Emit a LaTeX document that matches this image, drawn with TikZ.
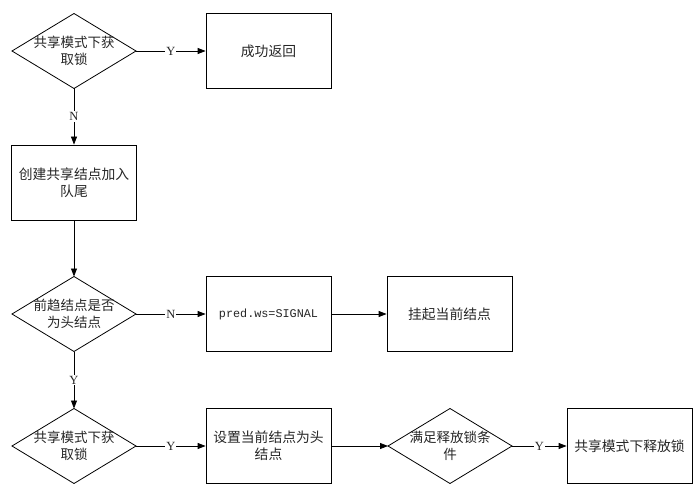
\documentclass[tikz,border=0pt]{standalone}
\usepackage{fontspec}
\setmainfont{Liberation Serif}
\newfontfamily\cjk{Noto Sans CJK SC}
\newfontfamily\mono{Liberation Mono}
\usetikzlibrary{arrows.meta}
\begin{document}
\begin{tikzpicture}[x=1pt,y=-1pt,
  proc/.style={draw,line width=0.8pt,minimum width=125pt,minimum height=75pt,inner sep=0pt,align=center,text=black!85,font=\cjk\fontsize{13.8}{17}\selectfont},
  dec/.style={inner sep=0pt,align=center,text=black!85,font=\cjk\fontsize{13.5}{17}\selectfont},
  arr/.style={line width=0.8pt,-{Triangle[length=8pt,width=6pt]}},
  lbl/.style={fill=white,inner sep=1pt,text=black!85,font=\fontsize{12.5}{12.5}\selectfont}]
\useasboundingbox (0,0) rectangle (700,494);
\newcommand{\mydiamond}[4]{%
  \draw[line width=0.8pt] (#1-62,#2) -- (#1,#2-37.5) -- (#1+62,#2) -- (#1,#2+37.5) -- cycle;
  \node[dec] (#3) at (#1,#2) {#4};
  \coordinate (#3-n) at (#1,#2-37.5);
  \coordinate (#3-s) at (#1,#2+37.5);
  \coordinate (#3-e) at (#1+62,#2);
  \coordinate (#3-w) at (#1-62,#2);}
% decisions
\mydiamond{74}{51}{d1}{共享模式下获\\取锁}
\mydiamond{74}{314}{d3}{前趋结点是否\\为头结点}
\mydiamond{74}{446}{d4}{共享模式下获\\取锁}
\mydiamond{450}{446}{d5}{满足释放锁条\\件}
% processes
\node[proc] (b1) at (268.5,51) {成功返回};
\node[proc] (b2) at (74,182.5) {创建共享结点加入\\队尾};
\node[proc,font=\mono\fontsize{11.8}{14}\selectfont] (b3) at (268.5,314) {pred.ws=SIGNAL};
\node[proc] (b4) at (449.5,314) {挂起当前结点};
\node[proc] (b5) at (268.5,446) {设置当前结点为头\\结点};
\node[proc] (b6) at (629.5,446) {共享模式下释放锁};
% connectors
\draw[arr] (d1-e) -- node[lbl]{Y} (b1.west);
\draw[arr] (d1-s) -- node[lbl]{N} (b2.north);
\draw[arr] (b2.south) -- (d3-n);
\draw[arr] (d3-e) -- node[lbl]{N} (b3.west);
\draw[arr] (b3.east) -- (b4.west);
\draw[arr] (d3-s) -- node[lbl]{Y} (d4-n);
\draw[arr] (d4-e) -- node[lbl]{Y} (b5.west);
\draw[arr] (b5.east) -- (d5-w);
\draw[arr] (d5-e) -- node[lbl]{Y} (b6.west);
\end{tikzpicture}
\end{document}
